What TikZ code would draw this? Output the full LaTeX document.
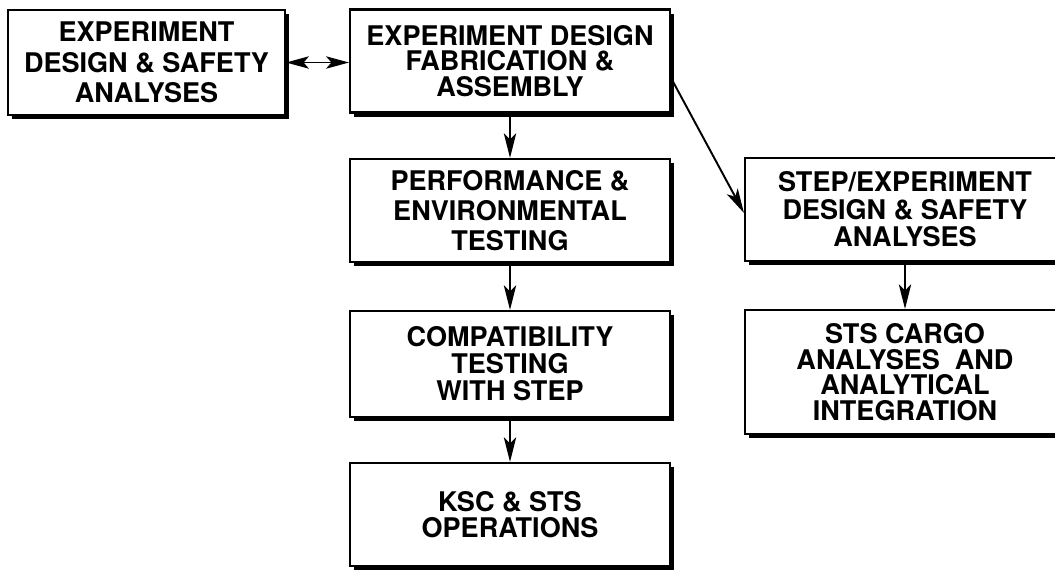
\documentclass[tikz,border=0pt]{standalone}
\usepackage{fontspec}
\setmainfont{TeX Gyre Heros}
\usetikzlibrary{arrows.meta,shadows}

\begin{document}
\begin{tikzpicture}[
    x=0.02cm, y=-0.02cm,
    blk/.style={draw, line width=1.2pt, fill=white, align=center,
      inner sep=0pt, minimum width=6.4cm, minimum height=2.06cm,
      drop shadow={shadow xshift=2.4pt, shadow yshift=-2.4pt, fill=black, opacity=1},
      font=\bfseries\fontsize{15.4}{#1}\selectfont},
    blk/.default=17,
    arr/.style={line width=1.1pt, -{Stealth[length=14pt,width=7pt,inset=3.5pt]}},
    dbl/.style={line width=1.1pt, {Stealth[length=13pt,width=7pt,inset=3pt]}-{Stealth[length=13pt,width=7pt,inset=3pt]}}
  ]
  \clip (0,0) rectangle (1055,569);
  % left column
  \node[blk=17.4, minimum width=5.54cm, minimum height=2.1cm] (esa) at (146.5,62.5)
    {EXPERIMENT\\DESIGN \& SAFETY\\ANALYSES};
  % centre column
  \node[blk=14.6] (fab) at (510,61) {EXPERIMENT DESIGN\\FABRICATION \&\\ASSEMBLY};
  \node[blk=17] (perf) at (510,210.5) {PERFORMANCE \&\\ENVIRONMENTAL\\TESTING};
  \node[blk=15.4, minimum height=2.12cm] (compat) at (510,364) {COMPATIBILITY\\TESTING\\WITH STEP};
  \node[blk=15] (ops) at (510,514.5) {KSC \& STS\\OPERATIONS};
  % right column
  \node[blk=15.6] (stepsa) at (905,209.5) {STEP/EXPERIMENT\\DESIGN \& SAFETY\\ANALYSES};
  \node[blk=14.6, minimum height=2.48cm] (cargo) at (905,372)
    {STS CARGO\\ANALYSES\ \ AND\\ANALYTICAL\\INTEGRATION};

  \draw[dbl] (esa.east) -- (esa.east -| fab.west);
  \draw[arr] (fab) -- (perf);
  \draw[arr] (perf) -- (compat);
  \draw[arr] (compat) -- (ops);
  \draw[arr] ([yshift=-0.34cm]fab.east) -- ([yshift=-0.07cm]stepsa.west);
  \draw[arr] (stepsa) -- (cargo);
\end{tikzpicture}
\end{document}
